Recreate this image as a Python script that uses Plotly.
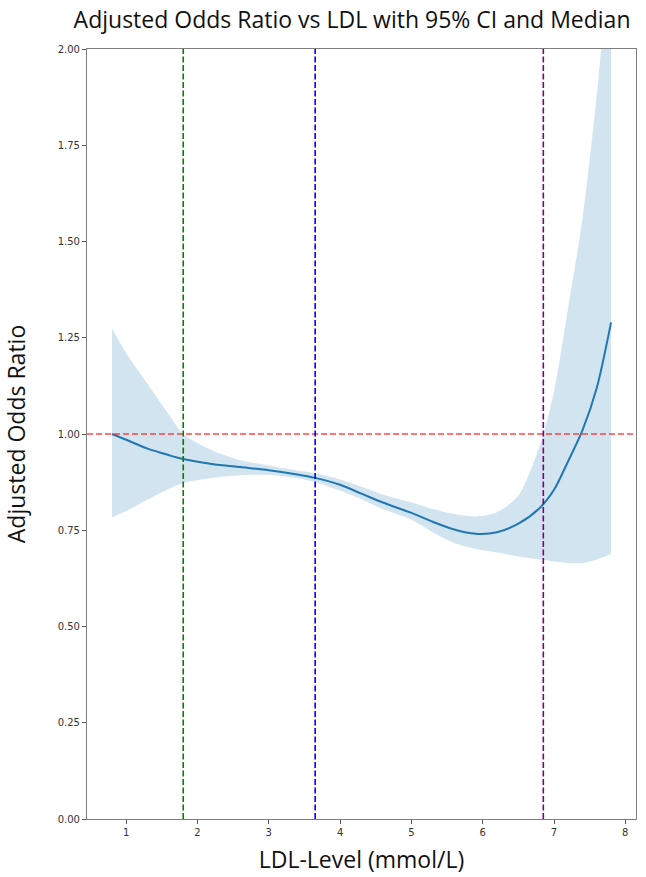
import plotly.graph_objects as go

# LDL level (mmol/L)
ldl = [0.8, 1.0, 1.3, 1.6, 1.8, 2.2, 2.6, 3.0, 3.4, 3.65, 4.0, 4.3, 4.6,
       5.0, 5.3, 5.6, 5.9, 6.2, 6.5, 6.8, 7.0, 7.2, 7.4, 7.6, 7.8]
# Adjusted odds ratio
odds_ratio = [1.00, 0.985, 0.962, 0.945, 0.935, 0.922, 0.914, 0.906, 0.895, 0.886,
              0.868, 0.845, 0.822, 0.795, 0.772, 0.752, 0.741, 0.745, 0.767, 0.808,
              0.855, 0.93, 1.01, 1.12, 1.29]
ci_upper = [1.275, 1.21, 1.13, 1.05, 1.00, 0.958, 0.932, 0.918, 0.905, 0.898,
            0.882, 0.863, 0.843, 0.822, 0.805, 0.792, 0.786, 0.797, 0.840, 0.97,
            1.11, 1.33, 1.56, 1.88, 2.30]
ci_lower = [0.784, 0.80, 0.83, 0.858, 0.873, 0.886, 0.893, 0.894, 0.885, 0.875,
            0.853, 0.83, 0.805, 0.777, 0.745, 0.717, 0.702, 0.692, 0.682, 0.674,
            0.669, 0.665, 0.665, 0.674, 0.688]

# Reference lines
ref_or = 1.0
vline_x = [1.8, 3.65, 6.85]
vline_colors = ["#008000", "#0000ff", "#800080"]

x_ticks = [1, 2, 3, 4, 5, 6, 7, 8]
y_ticks = [0.0, 0.25, 0.5, 0.75, 1.0, 1.25, 1.5, 1.75, 2.0]

fig = go.Figure()

fig.add_trace(go.Scatter(
    x=ldl, y=ci_lower, mode="lines",
    line=dict(width=0, color="rgba(31,119,180,0)", shape="spline", smoothing=0.8),
    hoverinfo="skip", showlegend=False,
))
fig.add_trace(go.Scatter(
    x=ldl, y=ci_upper, mode="lines", fill="tonexty",
    fillcolor="rgba(31,119,180,0.2)",
    line=dict(width=0, color="rgba(31,119,180,0)", shape="spline", smoothing=0.8),
    hoverinfo="skip", showlegend=False,
))

fig.add_trace(go.Scatter(
    x=ldl, y=odds_ratio, mode="lines",
    line=dict(color="#1f77b4", width=2, shape="spline", smoothing=0.8),
    showlegend=False,
))

fig.add_shape(type="line", xref="paper", yref="y", x0=0, x1=1, y0=ref_or, y1=ref_or,
              line=dict(color="rgba(255,40,40,0.85)", width=1.6, dash="6px,3px"))
for xv, c in zip(vline_x, vline_colors):
    fig.add_shape(type="line", xref="x", yref="paper", x0=xv, x1=xv, y0=0, y1=1,
                  line=dict(color=c, width=1.6, dash="6px,2.5px"))

axis_common = dict(
    showgrid=False, zeroline=False, showline=True, linecolor="#7f7f7f",
    linewidth=1.2, mirror=True, ticks="outside", ticklen=4, tickcolor="#555",
    tickfont=dict(family="DejaVu Sans", size=10, color="#333"),
)

fig.update_xaxes(range=[0.45, 8.15], tickvals=x_ticks,
                 ticktext=[str(v) for v in x_ticks],
                 title=dict(text="LDL-Level (mmol/L)",
                            font=dict(family="Open Sans", size=23, color="#111"),
                            standoff=14),
                 **axis_common)
fig.update_yaxes(range=[0, 2.0], tickvals=y_ticks,
                 ticktext=[f"{v:.2f}" for v in y_ticks],
                 title=dict(text="Adjusted Odds Ratio",
                            font=dict(family="Open Sans", size=23, color="#111"),
                            standoff=30),
                 **axis_common)

fig.update_layout(
    width=646, height=877,
    margin=dict(l=87, r=10, t=49, b=58),
    paper_bgcolor="white", plot_bgcolor="white",
    title=dict(text="Adjusted Odds Ratio vs LDL with 95% CI and Median",
               font=dict(family="Open Sans", size=23, color="#111"),
               x=0.545, xanchor="center", y=0.986, yanchor="top"),
)

fig.write_html("out.html")
